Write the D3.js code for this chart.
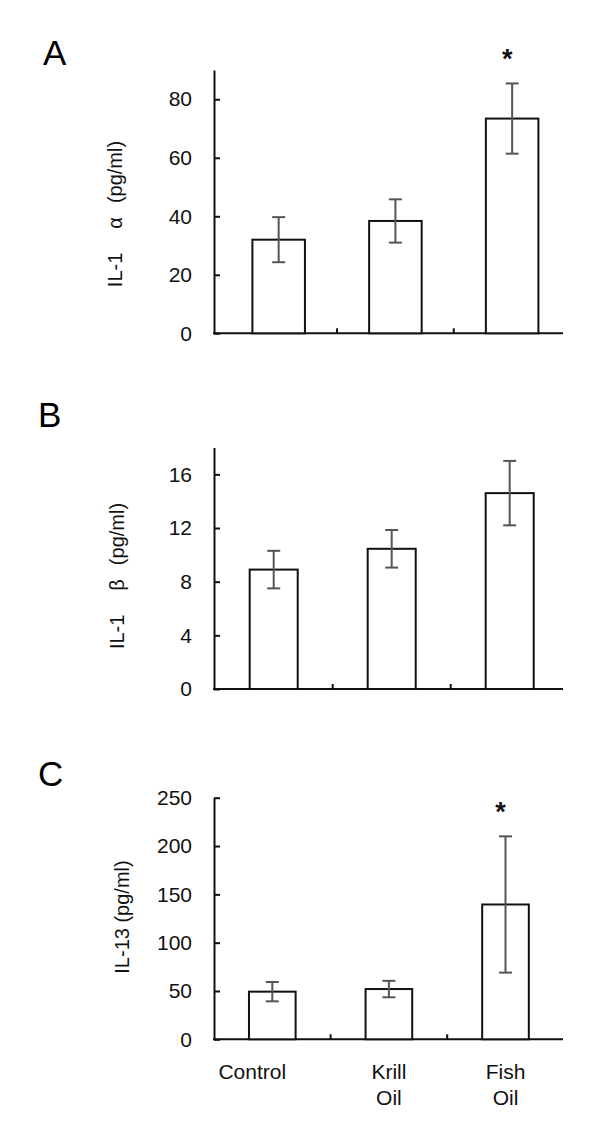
<!DOCTYPE html>
<html>
<head>
<meta charset="utf-8">
<script src="https://cdn.jsdelivr.net/npm/d3@7"></script>
<style>
  body { margin: 0; background: #fff; }
  svg { display: block; font-family: "Liberation Sans", Arial, sans-serif; }
</style>
</head>
<body>
<svg id="chart" width="600" height="1128"></svg>
<script>
// Data
const categories = ["Control", "Krill Oil", "Fish Oil"];

const il1aMean = [32, 38.4, 73.4];
const il1aErr = [7.7, 7.4, 12];
const il1aTicks = [0, 20, 40, 60, 80];

const il1bMean = [8.9, 10.45, 14.6];
const il1bErr = [1.4, 1.4, 2.4];
const il1bTicks = [0, 4, 8, 12, 16];

const il13Mean = [49.3, 52, 139.5];
const il13Err = [10, 8.5, 70.5];
const il13Ticks = [0, 50, 100, 150, 200, 250];

const il1aStar = [false, false, true];
const il1bStar = [false, false, false];
const il13Star = [false, false, true];

const svg = d3.select("#chart");
svg.append("rect").attr("width", 600).attr("height", 1128).attr("fill", "#fff");

// Panel setup (positions only)
const panels = [
  { letter: "A", letterX: 43, letterY: 65, base: 333.3, top: 70, yMax: 90,
    bandRange: [220.3, 570.5], padIn: 0.55,
    mean: il1aMean, err: il1aErr, ticks: il1aTicks, star: il1aStar,
    label: ["IL-1", "α", "(pg/ml)"], labelX: 122, labelY: 214 },
  { letter: "B", letterX: 38, letterY: 427, base: 689, top: 447.5, yMax: 18,
    bandRange: [214.7, 568.7], padIn: 0.593,
    mean: il1bMean, err: il1bErr, ticks: il1bTicks, star: il1bStar,
    label: ["IL-1", "β", "(pg/ml)"], labelX: 124, labelY: 576 },
  { letter: "C", letterX: 38, letterY: 786, base: 1039.3, top: 797.7, yMax: 250,
    bandRange: [214, 563.8], padIn: 0.6,
    mean: il13Mean, err: il13Err, ticks: il13Ticks, star: il13Star,
    label: ["IL-13 (pg/ml)"], labelX: 129, labelY: 917 }
];

const axisX = 214, axisEnd = 563;

panels.forEach((p, pi) => {
  const g = svg.append("g");

  const y = d3.scaleLinear().domain([0, p.yMax]).range([p.base, p.top]);
  const x = d3.scaleBand()
    .domain(categories)
    .range(p.bandRange)
    .paddingInner(p.padIn)
    .paddingOuter(p.padIn / 2);

  // panel letter
  g.append("text")
    .attr("x", p.letterX).attr("y", p.letterY)
    .style("font-size", "35px")
    .text(p.letter);

  // y axis, ticks pointing inward
  const yAxis = g.append("g")
    .attr("transform", `translate(${axisX},0)`)
    .call(d3.axisLeft(y).tickValues(p.ticks).tickSizeInner(-6).tickSizeOuter(0).tickPadding(22));
  yAxis.select(".domain").attr("stroke", "#111").attr("stroke-width", 2);
  yAxis.selectAll(".tick line").attr("stroke", "#111").attr("stroke-width", 2);
  yAxis.selectAll(".tick text")
    .style("font-size", "21px")
    .style("font-family", "Liberation Sans, Arial, sans-serif")
    .attr("fill", "#111");

  // x axis line with tick marks between groups
  g.append("line")
    .attr("x1", axisX - 1).attr("x2", axisEnd)
    .attr("y1", p.base).attr("y2", p.base)
    .attr("stroke", "#111").attr("stroke-width", 2);
  categories.slice(1).forEach(c => {
    const bx = x(c) - x.step() * p.padIn / 2;
    g.append("line")
      .attr("x1", bx).attr("x2", bx)
      .attr("y1", p.base).attr("y2", p.base - 5)
      .attr("stroke", "#111").attr("stroke-width", 2);
  });

  // bars
  g.selectAll(".bar")
    .data(categories)
    .enter().append("rect")
    .attr("class", "bar")
    .attr("x", c => x(c))
    .attr("y", (c, i) => y(p.mean[i]))
    .attr("width", x.bandwidth())
    .attr("height", (c, i) => p.base - y(p.mean[i]))
    .attr("fill", "#fff")
    .attr("stroke", "#111")
    .attr("stroke-width", 2);

  // error bars
  const eb = g.selectAll(".err")
    .data(categories)
    .enter().append("g")
    .attr("class", "err")
    .attr("stroke", "#555")
    .attr("stroke-width", 2);
  eb.append("line")
    .attr("x1", c => x(c) + x.bandwidth() / 2)
    .attr("x2", c => x(c) + x.bandwidth() / 2)
    .attr("y1", (c, i) => y(p.mean[i] + p.err[i]))
    .attr("y2", (c, i) => y(p.mean[i] - p.err[i]));
  [1, -1].forEach(s => {
    eb.append("line")
      .attr("x1", c => x(c) + x.bandwidth() / 2 - 6.5)
      .attr("x2", c => x(c) + x.bandwidth() / 2 + 6.5)
      .attr("y1", (c, i) => y(p.mean[i] + s * p.err[i]))
      .attr("y2", (c, i) => y(p.mean[i] + s * p.err[i]));
  });

  // significance stars
  g.selectAll(".star")
    .data(categories.filter((c, i) => p.star[i]))
    .enter().append("text")
    .attr("class", "star")
    .attr("x", c => x(c) + x.bandwidth() / 2 - 5)
    .attr("y", c => {
      const i = categories.indexOf(c);
      return y(p.mean[i] + p.err[i]) - 15;
    })
    .attr("text-anchor", "middle")
    .style("font-size", "27px")
    .style("font-weight", "bold")
    .attr("fill", "#111")
    .text("*");

  // y label (rotated)
  const lab = g.append("text")
    .attr("transform", `translate(${p.labelX},${p.labelY}) rotate(-90)`)
    .attr("text-anchor", "middle")
    .style("font-size", "20px")
    .attr("fill", "#111");
  p.label.forEach((t, k) => {
    lab.append("tspan").attr("dx", k === 0 ? 0 : (k === 1 ? 24 : 14)).text(t);
  });

  // category labels under last panel
  if (pi === panels.length - 1) {
    categories.forEach((c, i) => {
      const cx = x(c) + x.bandwidth() / 2 + (i === 0 ? -20 : 0);
      const words = c.split(" ");
      words.forEach((w, k) => {
        g.append("text")
          .attr("x", cx)
          .attr("y", 1079 + k * 26)
          .attr("text-anchor", "middle")
          .style("font-size", "21px")
          .attr("fill", "#111")
          .text(w);
      });
    });
  }
});
</script>
</body>
</html>
